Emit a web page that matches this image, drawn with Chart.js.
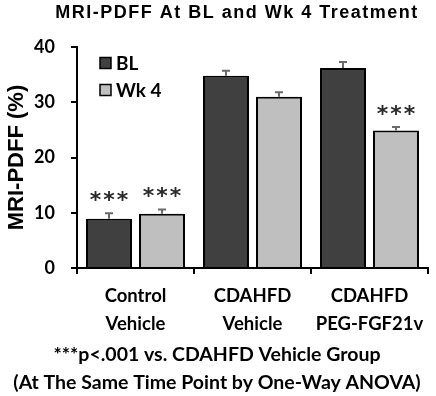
<!DOCTYPE html>
<html>
<head>
<meta charset="utf-8">
<script src="https://cdn.jsdelivr.net/npm/chart.js@4"></script>
<style>
    html, body { margin: 0; padding: 0; background: #fff; }
    #wrap { width: 436px; height: 396px; }
</style>
</head>
<body>
<div id="wrap"><canvas id="pdffChart" width="436" height="396"></canvas></div>
<script>
// Data
const groups = [['Control', 'Vehicle'], ['CDAHFD', 'Vehicle'], ['CDAHFD', 'PEG-FGF21v']];
const blValues = [8.9, 34.8, 36.2];
const blErrors = [1.0, 0.9, 1.1];
const wk4Values = [9.8, 31.0, 24.9];
const wk4Errors = [0.8, 0.8, 0.6];
const blStars = [true, false, false];
const wk4Stars = [true, false, true];
const yTicks = [0, 10, 20, 30, 40];

const errors = [blErrors, wk4Errors];
const stars = [blStars, wk4Stars];

// error bars, asterisks, legend, title and footnote
const extrasPlugin = {
    id: 'extras',
    afterDatasetsDraw(chart) {
        const ctx = chart.ctx;
        const y = chart.scales.y;
        ctx.save();
        chart.data.datasets.forEach((ds, di) => {
            const meta = chart.getDatasetMeta(di);
            meta.data.forEach((bar, i) => {
                const top = y.getPixelForValue(ds.data[i] + errors[di][i]);
                const base = y.getPixelForValue(ds.data[i]);
                ctx.strokeStyle = '#6b6b6b';
                ctx.lineWidth = 2;
                ctx.beginPath();
                ctx.moveTo(bar.x, base);
                ctx.lineTo(bar.x, top);
                ctx.moveTo(bar.x - 4, top);
                ctx.lineTo(bar.x + 4, top);
                ctx.stroke();

                if (stars[di][i]) {
                    ctx.font = 'bold 22px "DejaVu Sans"';
                    ctx.letterSpacing = '2px';
                    ctx.fillStyle = '#2a2a2a';
                    ctx.textAlign = 'center';
                    ctx.textBaseline = 'alphabetic';
                    const m = ctx.measureText('***');
                    const mid = (m.actualBoundingBoxAscent - m.actualBoundingBoxDescent) / 2;
                    ctx.fillText('***', bar.x + 1, top - 17 + mid);
                    ctx.letterSpacing = '0px';
                }
            });
        });
        ctx.restore();
    },
    afterDraw(chart) {
        const ctx = chart.ctx;
        ctx.save();

        // title
        ctx.fillStyle = '#000';
        ctx.font = 'bold 18px "Liberation Sans"';
        ctx.letterSpacing = '1.5px';
        ctx.textAlign = 'center';
        ctx.textBaseline = 'middle';
        ctx.fillText('MRI-PDFF At BL and Wk 4 Treatment', 237, 13);
        ctx.letterSpacing = '0px';

        // legend
        const left = chart.chartArea.left;
        const top = chart.chartArea.top;
        chart.data.datasets.forEach((ds, di) => {
            const cy = top + 16 + di * 27;
            ctx.fillStyle = ds.backgroundColor;
            ctx.fillRect(left + 23, cy - 5.5, 11, 11);
            ctx.strokeStyle = '#000';
            ctx.lineWidth = 1.5;
            ctx.strokeRect(left + 23, cy - 5.5, 11, 11);
            ctx.fillStyle = '#000';
            ctx.font = 'bold 19px Lato';
            ctx.textAlign = 'left';
            ctx.textBaseline = 'middle';
            ctx.fillText(ds.label, left + 39, cy + 1);
        });

        // footnote
        ctx.font = 'bold 19.5px Lato';
        ctx.textAlign = 'center';
        ctx.textBaseline = 'middle';
        ctx.fillText('***p<.001 vs. CDAHFD Vehicle Group', 217, 355);
        ctx.fillText('(At The Same Time Point by One-Way ANOVA)', 217, 383);
        ctx.restore();
    }
};

const ctx = document.getElementById('pdffChart').getContext('2d');

new Chart(ctx, {
    type: 'bar',
    data: {
        labels: groups,
        datasets: [{
            label: 'BL',
            data: blValues,
            backgroundColor: '#404040',
            borderColor: '#000',
            borderWidth: 2,
            borderSkipped: 'bottom'
        }, {
            label: 'Wk 4',
            data: wk4Values,
            backgroundColor: '#bfbfbf',
            borderColor: '#000',
            borderWidth: 2,
            borderSkipped: 'bottom'
        }]
    },
    options: {
        responsive: false,
        animation: false,
        devicePixelRatio: 1,
        categoryPercentage: 0.906,
        barPercentage: 0.868,
        layout: { padding: { top: 47, right: 8, left: 0, bottom: 0 } },
        plugins: {
            legend: { display: false },
            tooltip: { enabled: false },
            title: { display: false }
        },
        scales: {
            x: {
                grid: {
                    display: true,
                    drawOnChartArea: false,
                    drawTicks: true,
                    tickLength: 6,
                    color: '#000',
                    lineWidth: 2
                },
                border: { display: true, color: '#000', width: 2 },
                ticks: {
                    color: '#000',
                    font: { family: 'Lato', weight: 'bold', size: 18.5, lineHeight: 1.5 },
                    padding: 8,
                    maxRotation: 0
                },
                afterFit(scale) { scale.height = 128; }
            },
            y: {
                min: 0,
                max: 40,
                afterBuildTicks(scale) { scale.ticks = yTicks.map(v => ({ value: v })); },
                grid: {
                    display: true,
                    drawOnChartArea: false,
                    drawTicks: true,
                    tickLength: 6,
                    color: '#000',
                    lineWidth: 2
                },
                border: { display: true, color: '#000', width: 2 },
                ticks: {
                    color: '#000',
                    font: { family: 'Lato', weight: 'bold', size: 18 },
                    padding: 16
                },
                title: {
                    display: true,
                    text: 'MRI-PDFF (%)',
                    color: '#000',
                    font: { family: 'Liberation Sans', weight: 'bold', size: 22 },
                    padding: { top: 4, bottom: 4 }
                },
                afterFit(scale) { scale.width = 77; }
            }
        }
    },
    plugins: [extrasPlugin]
});
</script>
</body>
</html>
